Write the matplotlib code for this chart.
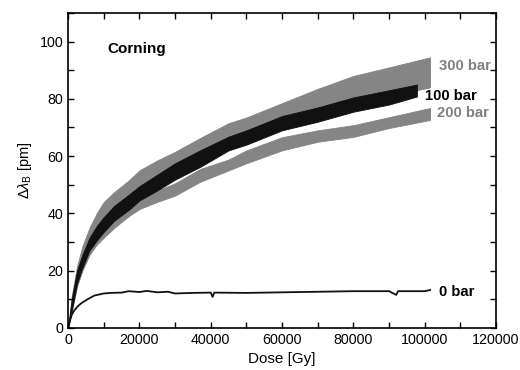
import numpy as np
import matplotlib
matplotlib.use("Agg")
import matplotlib.pyplot as plt
from matplotlib.ticker import MultipleLocator

# ==========================
# DATA
# ==========================

dose = [0, 1000, 2500, 4000, 6000, 8000, 10000, 13000, 17000, 20000,
        25000, 30000, 37000, 45000, 50000, 60000, 70000, 80000, 90000]

# 300 bar band (gray, drawn first)
dose_300 = dose + [101500]
hi_300 = [0, 11, 21.5, 28.5, 35, 40, 44, 47.5, 51.5, 55,
          58.5, 61.5, 66.3, 71.5, 73.5, 78.5, 83.5, 88, 91, 94.5]
lo_300 = [0, 6, 15, 20.5, 26, 29.5, 32.5, 36.5, 40.5, 44,
          48.5, 52, 57, 62.5, 65, 70, 74.5, 78, 81, 84]

# 200 bar band (gray)
dose_200 = dose + [101500]
hi_200 = [0, 9, 18, 23.5, 29, 32.5, 35.5, 39, 43, 45,
          48, 50.5, 55.5, 58.8, 62, 66.6, 69, 70.8, 73.6, 76.8]
lo_200 = [0, 5.5, 14.5, 20, 25.5, 29, 31.5, 35, 39, 41.5,
          44, 46.2, 51, 55, 57.5, 62, 65, 66.7, 69.8, 72.6]

# 100 bar band (black)
dose_100 = dose + [97800]
hi_100 = [0, 10, 20, 25.5, 31.5, 35.5, 38.7, 42.7, 46.5, 49.5,
          53.5, 57.5, 62, 66.8, 69, 74, 77, 80.5, 83, 85]
lo_100 = [0, 6, 15.5, 21, 27, 30.5, 33.5, 37.5, 41.2, 44.5,
          48, 51.8, 56.2, 62, 64, 69, 72, 75.5, 78, 80.8]

# 0 bar (thin black line)
dose_0 = [0, 500, 1000, 1800, 2700, 3700, 5500, 7400, 10000, 12000,
          15000, 17000, 20000, 22000, 25000, 28000, 30000, 35000, 40000,
          40500, 41000, 50000, 60000, 70000, 80000, 90000, 92000, 92500,
          100000, 101500]
val_0 = [0, 2.5, 4.5, 6.2, 7.5, 8.6, 10, 11.3, 12, 12.2,
         12.3, 12.8, 12.5, 12.9, 12.4, 12.6, 12, 12.2, 12.3,
         10.8, 12.3, 12.2, 12.4, 12.6, 12.8, 12.8, 11.5, 12.8,
         12.8, 13.2]

labels = ["300 bar", "100 bar", "200 bar", "0 bar"]
label_x = [104000, 100100, 103500, 104000]
label_y = [91.5, 81, 75.2, 12.6]
label_colors = ["#808080", "black", "#808080", "black"]

# ==========================
# FIGURE
# ==========================

plt.rcParams["font.family"] = ["Liberation Sans", "DejaVu Sans"]
plt.rcParams["mathtext.fontset"] = "custom"
plt.rcParams["mathtext.rm"] = "Liberation Sans"
plt.rcParams["mathtext.it"] = "Liberation Sans:italic"

fig = plt.figure(figsize=(5.2, 3.7), dpi=100)
ax = fig.add_axes([0.131, 0.114, 0.823, 0.851])

ax.fill_between(dose_300, lo_300, hi_300, color="#858585", lw=0.6)
ax.fill_between(dose_200, lo_200, hi_200, color="#858585", lw=0.6)
ax.fill_between(dose_100, lo_100, hi_100, color="#111111", lw=0.6)
ax.plot(dose_0, val_0, color="#111111", lw=1.3)

for txt, x, y, c in zip(labels, label_x, label_y, label_colors):
    ax.text(x, y, txt, color=c, fontsize=10.7, fontweight="bold",
            va="center", ha="left")

ax.text(10900, 97.4, "Corning", fontsize=11, fontweight="bold",
        va="center", ha="left")

ax.set_xlim(0, 120000)
ax.set_ylim(0, 110)
ax.xaxis.set_major_locator(MultipleLocator(20000))
ax.xaxis.set_minor_locator(MultipleLocator(10000))
ax.yaxis.set_major_locator(MultipleLocator(20))
ax.yaxis.set_minor_locator(MultipleLocator(10))

ax.tick_params(which="both", direction="in", top=True, right=True,
               length=4, width=1, labelsize=10.3)
ax.tick_params(axis="x", pad=4)
for s in ax.spines.values():
    s.set_linewidth(1.2)

ax.set_xlabel("Dose [Gy]", fontsize=11, labelpad=3)
ax.set_ylabel(r"$\Delta\lambda_{\rm B}$ [pm]", fontsize=10.5, labelpad=4)

fig.savefig("out.png", dpi=100)
